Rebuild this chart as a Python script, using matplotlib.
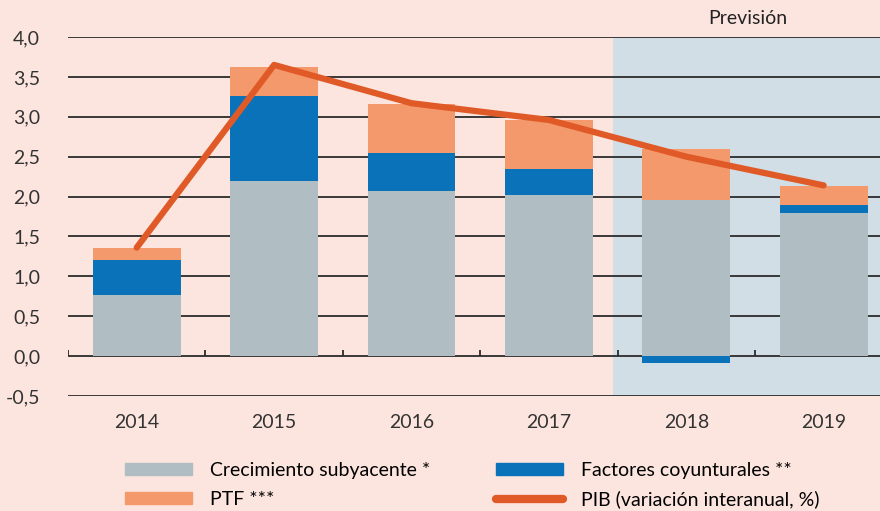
import matplotlib
matplotlib.use("Agg")
import matplotlib.pyplot as plt
from matplotlib.patches import Patch
from matplotlib.lines import Line2D
import numpy as np

# datos (p.p.)
years      = ["2014", "2015", "2016", "2017", "2018", "2019"]
subyacente = [0.76, 2.20, 2.07, 2.02, 1.96, 1.80]
coyuntural = [0.45, 1.06, 0.48, 0.32, -0.09, 0.10]
ptf        = [0.15, 0.36, 0.61, 0.62, 0.63, 0.23]
pib        = [1.36, 3.65, 3.17, 2.96, 2.50, 2.14]
yticks     = [-0.5, 0.0, 0.5, 1.0, 1.5, 2.0, 2.5, 3.0, 3.5, 4.0]

BG     = "#fce5df"
SHADE  = "#d1dee5"
GRAY   = "#b0bdc2"
BLUE   = "#0a72b8"
ORANGE = "#f4996b"
LINE   = "#e05a28"

plt.rcParams["font.family"] = ["Lato", "DejaVu Sans"]

fig = plt.figure(figsize=(8.8, 5.11), dpi=100, facecolor=BG)
ax = fig.add_axes([68 / 880, 1 - 396 / 511, 1 - 68 / 880, (396 - 37) / 511])
ax.set_facecolor(BG)

x = np.arange(len(years))
w = 0.64

# zona de previsión
ax.axvspan(3.47, 5.5, ymin=0, ymax=1, color=SHADE, zorder=0, lw=0)

for t in yticks:
    ax.axhline(t, color="#2b2b2b", lw=1.3, zorder=1)

pos_blue = [max(v, 0) for v in coyuntural]
neg_blue = [min(v, 0) for v in coyuntural]
ax.bar(x, subyacente, w, color=GRAY, zorder=2)
ax.bar(x, pos_blue, w, bottom=subyacente, color=BLUE, zorder=2)
ax.bar(x, neg_blue, w, color=BLUE, zorder=2)
bottom_ptf = [s + b for s, b in zip(subyacente, pos_blue)]
ax.bar(x, ptf, w, bottom=bottom_ptf, color=ORANGE, zorder=2)

ax.plot(x, pib, color=LINE, lw=4.5, solid_capstyle="round", zorder=3)

# marcas de separación sobre el eje cero
ax.vlines(np.arange(len(years) + 1) - 0.5, 0, 0.08, color="#2b2b2b", lw=1.3, zorder=1)

ax.set_xlim(-0.5, 5.41)
ax.set_ylim(-0.5, 4.0)
ax.set_yticks(yticks)
ax.set_yticklabels([f"{t:.1f}".replace(".", ",") for t in yticks], fontsize=14, color="#333333")
ax.set_xticks(x)
ax.set_xticklabels(years, fontsize=14, color="#333333")
ax.tick_params(axis="y", length=0, pad=20)
ax.tick_params(axis="x", length=0, pad=13)
for s in ax.spines.values():
    s.set_visible(False)

fig.text(748 / 880, 1 - 18 / 511, "Previsión", ha="center", va="center", fontsize=14, color="#222222")

handles = [
    Patch(color=GRAY, label="Crecimiento subyacente *"),
    Patch(color=ORANGE, label="PTF ***"),
    Patch(color=BLUE, label="Factores coyunturales **"),
    Line2D([], [], color=LINE, lw=6, solid_capstyle="round", label="PIB (variación interanual, %)"),
]
fig.legend(handles=handles, ncol=2, loc="upper left", bbox_to_anchor=(125 / 880, 1 - 462 / 511),
           frameon=False, fontsize=14, handlelength=3.45, handleheight=0.6, handletextpad=0.9,
           columnspacing=3.4, labelspacing=0.6, borderpad=0, borderaxespad=0)

fig.savefig("out.png", dpi=100, facecolor=BG)
